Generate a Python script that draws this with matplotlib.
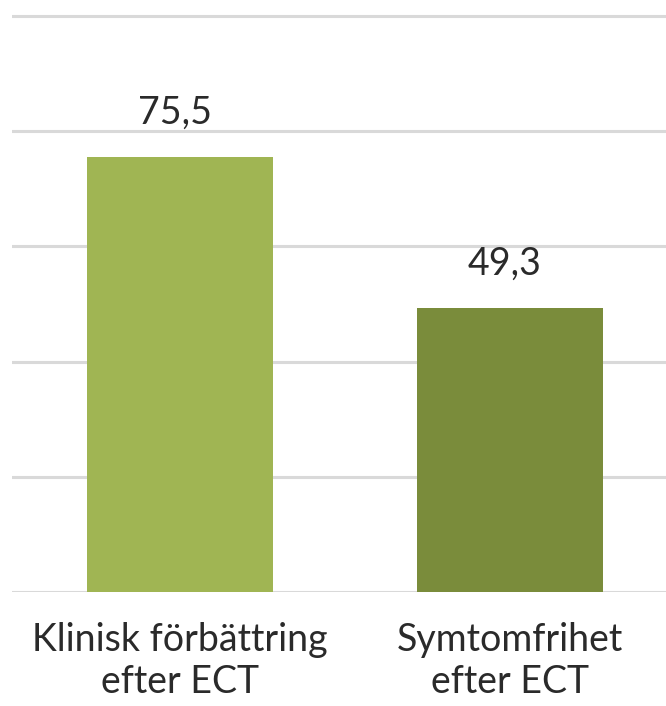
import matplotlib.pyplot as plt

# Data
categories = ['Klinisk förbättring\nefter ECT', 'Symtomfrihet\nefter ECT']
values = [75.5, 49.3]
value_labels = ['75,5', '49,3']
colors = ['#a0b553', '#7a8c3b']

plt.rcParams['font.family'] = ['Lato', 'DejaVu Sans']

fig = plt.figure(figsize=(6.66, 7.06), dpi=100)
# axes placed so that baseline sits at y=592px and gridlines span to the right edge
px_per_unit = 5.76
top_val = 102
ax = fig.add_axes([12 / 666, (706 - 592) / 706, 654 / 666, top_val * px_per_unit / 706])

x = range(len(categories))
ax.bar(x, values, width=0.564, color=colors, zorder=3)

for xi, v, lab in zip(x, values, value_labels):
    ax.text(xi - 0.015, v + 4.5, lab, ha='center', va='bottom', fontsize=27, color='#2a2a2a')

ax.set_xlim(-0.509, 1.473)
ax.set_ylim(0, top_val)
ax.set_yticks([0, 20, 40, 60, 80, 100])
ax.yaxis.grid(True, color='#d9d9d9', linewidth=2.2, zorder=0)
ax.tick_params(axis='y', left=False, labelleft=False)
ax.tick_params(axis='x', bottom=False, pad=18)
ax.set_xticks(list(x))
ax.set_xticklabels(categories, fontsize=27, color='#2a2a2a', linespacing=1.22)

for s in ax.spines.values():
    s.set_visible(False)

fig.savefig('out.png', dpi=100, facecolor='white')
